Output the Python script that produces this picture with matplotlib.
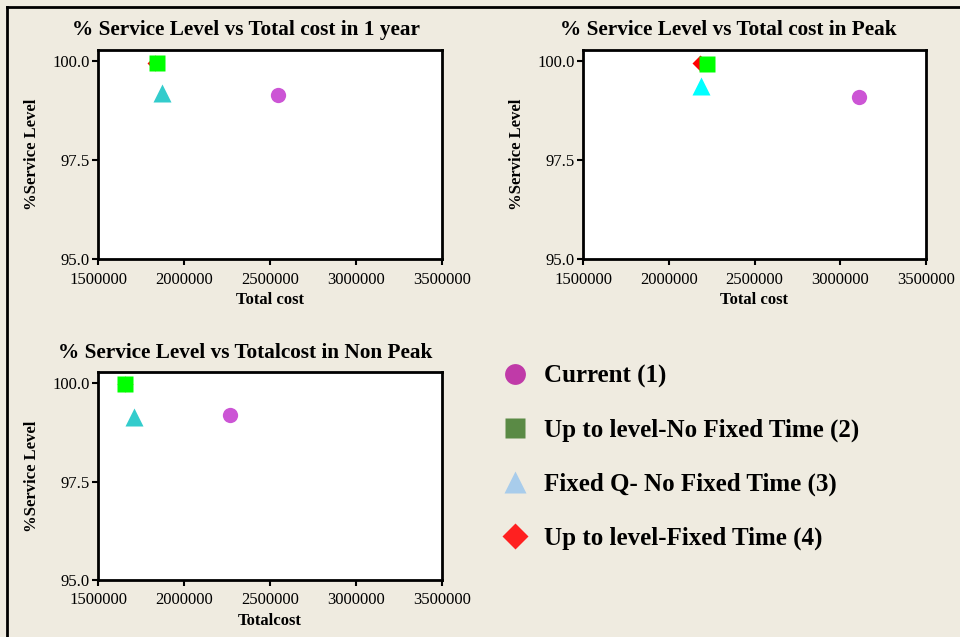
import matplotlib
matplotlib.use("Agg")
import matplotlib.pyplot as plt
from matplotlib.lines import Line2D

# data: (total cost, % service level)
titles = ["% Service Level vs Total cost in 1 year",
          "% Service Level vs Total cost in Peak",
          "% Service Level vs Totalcost in Non Peak"]
xlabels = ["Total cost", "Total cost", "Totalcost"]

current_cost = [2546000, 3109000, 2267000]
current_sl = [99.14, 99.09, 99.18]
nofix_cost = [1843000, 2223000, 1657000]
nofix_sl = [99.95, 99.92, 99.97]
fixq_cost = [1872000, 2188000, 1709000]
fixq_sl = [99.19, 99.37, 99.13]
fixt_cost = [1831000, 2180000, 1657000]
fixt_sl = [99.95, 99.95, 99.97]

legend_labels = ["Current (1)", "Up to level-No Fixed Time (2)",
                 "Fixed Q- No Fixed Time (3)", "Up to level-Fixed Time (4)"]
yticks = [95.0, 97.5, 100.0]
xticks = [1500000, 2000000, 2500000, 3000000, 3500000]

bg = "#EFEBE0"
serif = ["Liberation Serif", "DejaVu Serif"]
plt.rcParams["font.family"] = serif

fig = plt.figure(figsize=(9.6, 6.37), dpi=100, facecolor=bg)

W, H = 960.0, 637.0
boxes = [(98, 50, 442, 259), (583, 50, 926, 259), (98, 372, 442, 580)]
title_pos = [(246, 30), (728, 30), (245, 353)]
tri_colors = ["#33CCCC", "#00FFFF", "#33CCCC"]

for i, (l, t, r, b) in enumerate(boxes):
    ax = fig.add_axes([l / W, 1 - b / H, (r - l) / W, (b - t) / H])
    ax.set_facecolor("white")
    ax.plot(current_cost[i], current_sl[i], "o", color="#CC55D5", ms=11, mec="none")
    ax.plot(fixt_cost[i], fixt_sl[i], "D", color="#FF0000", ms=8.5, mec="none")
    ax.plot(fixq_cost[i], fixq_sl[i], "^", color=tri_colors[i], ms=12.5, mec="none")
    ax.plot(nofix_cost[i], nofix_sl[i], "s", color="#00FF00", ms=11.5, mec="none")
    ax.set_xlim(1500000, 3500000)
    ax.set_ylim(95.0, 100.28)
    ax.set_xticks(xticks)
    ax.set_xticklabels([str(v) for v in xticks])
    ax.set_yticks(yticks)
    ax.set_yticklabels(["%.1f" % v for v in yticks])
    ax.tick_params(direction="out", length=4, width=1.5, labelsize=12, colors="black")
    ax.tick_params(axis="x", pad=5)
    ax.tick_params(axis="y", pad=2)
    for s in ax.spines.values():
        s.set_linewidth(2)
    ax.set_xlabel(xlabels[i], fontsize=12, fontweight="bold", labelpad=3)
    ax.set_ylabel("%Service Level", fontsize=12, fontweight="bold", labelpad=9)
    tx, ty = title_pos[i]
    fig.text(tx / W, 1 - ty / H, titles[i], ha="center", va="center",
             fontsize=15.3, fontweight="bold")

handles = [
    Line2D([], [], ls="none", marker="o", color="#C03AA8", ms=15, mec="none"),
    Line2D([], [], ls="none", marker="s", color="#5A8A45", ms=14.5, mec="none"),
    Line2D([], [], ls="none", marker="^", color="#A8CCEB", ms=16, mec="none"),
    Line2D([], [], ls="none", marker="D", color="#FF2020", ms=13, mec="none"),
]
fig.legend(handles, legend_labels, loc="upper left", bbox_to_anchor=(500 / W, 1 - 365 / H),
           frameon=False, borderpad=0, borderaxespad=0, handlelength=1.2, handletextpad=0.55,
           labelspacing=1.22, prop={"family": serif, "weight": "bold", "size": 18})

# frame lines on the top and left edges
fig.add_artist(Line2D([7 / W, 7 / W], [0, 1 - 7 / H], color="black", lw=2, transform=fig.transFigure))
fig.add_artist(Line2D([7 / W, 1], [1 - 7 / H, 1 - 7 / H], color="black", lw=2, transform=fig.transFigure))

fig.savefig("out.png", dpi=100, facecolor=bg)
